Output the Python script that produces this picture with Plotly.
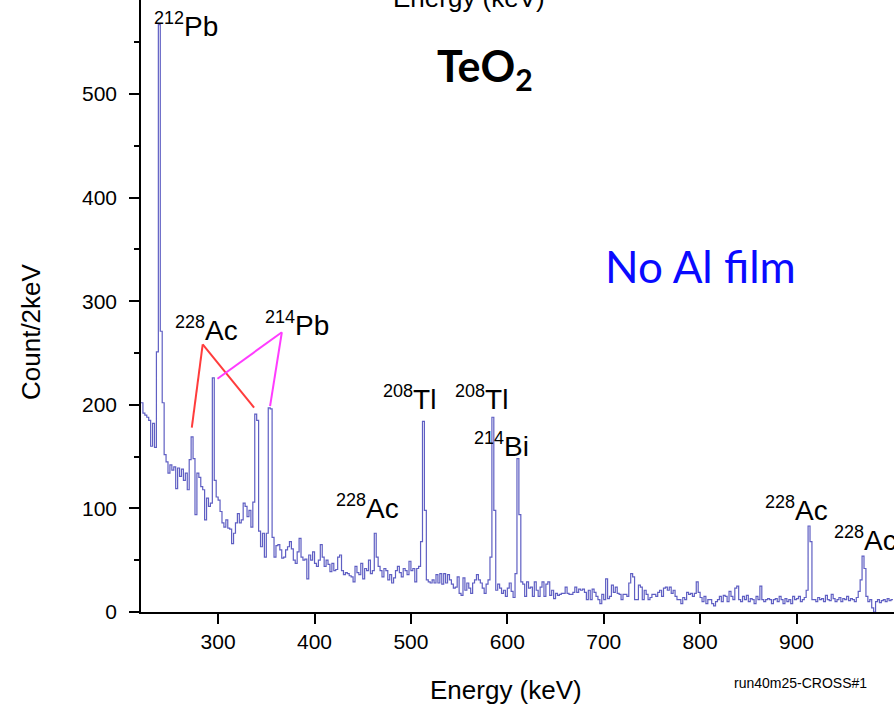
import plotly.graph_objects as go

# ---- data: gamma spectrum, 2 keV bins starting at 220 keV ----
bin_start = 220
bin_width = 2
counts = [
    202, 192, 190, 188, 185, 160, 182, 159, 251, 567,   # 220-238
    271, 202, 152, 145, 134, 142, 137, 140, 119, 139,   # 240-258
    131, 138, 127, 134, 118, 147, 169, 148, 94, 134,    # 260-278
    130, 121, 118, 89, 110, 102, 105, 226, 127, 111,    # 280-298
    108, 97, 86, 82, 89, 81, 80, 66, 76, 86,            # 300-318
    95, 86, 89, 105, 102, 92, 98, 82, 106, 191,         # 320-338
    185, 78, 63, 76, 53, 76, 197, 196, 72, 53,          # 340-358
    64, 65, 60, 52, 53, 60, 63, 68, 61, 50,             # 360-378
    47, 58, 71, 53, 50, 51, 32, 55, 50, 58,             # 380-398
    47, 44, 50, 65, 53, 44, 50, 46, 39, 47,             # 400-418
    40, 41, 53, 55, 40, 36, 38, 37, 35, 34,             # 420-438
    29, 44, 38, 36, 47, 32, 42, 40, 50, 37,             # 440-458
    40, 76, 53, 44, 40, 34, 42, 40, 31, 36,             # 460-478
    28, 33, 40, 44, 38, 34, 42, 40, 36, 49,             # 480-498
    40, 42, 29, 42, 44, 68, 184, 98, 31, 29,            # 500-518
    28, 31, 28, 36, 28, 37, 27, 37, 28, 36,             # 520-538
    31, 27, 23, 24, 34, 18, 16, 33, 21, 28,             # 540-558
    23, 18, 28, 31, 36, 31, 28, 23, 18, 27,             # 560-578
    31, 53, 188, 98, 21, 27, 23, 18, 21, 15,            # 580-598
    23, 28, 20, 14, 37, 148, 94, 29, 27, 15,            # 600-618
    29, 23, 24, 15, 29, 21, 15, 24, 29, 15,             # 620-638
    27, 29, 16, 21, 13, 18, 16, 17, 18, 18,             # 640-658
    24, 18, 17, 17, 19, 24, 19, 22, 21, 22,             # 660-678
    19, 12, 21, 12, 22, 19, 15, 12, 8, 17,              # 680-698
    12, 32, 13, 15, 26, 19, 24, 18, 17, 12,             # 700-718
    17, 17, 15, 28, 37, 34, 12, 12, 26, 24,             # 720-738
    12, 21, 17, 12, 14, 17, 17, 15, 19, 21,             # 740-758
    15, 23, 24, 21, 24, 18, 21, 15, 12, 12,             # 760-778
    8, 14, 12, 19, 17, 18, 15, 18, 29, 19,              # 780-798
    14, 10, 15, 8, 12, 12, 8, 6, 10, 12,                # 800-818
    15, 10, 16, 15, 10, 20, 15, 12, 23, 25,             # 820-838
    12, 10, 15, 12, 16, 10, 13, 12, 8, 15,              # 840-858
    12, 25, 12, 10, 12, 13, 12, 8, 12, 13,              # 860-878
    10, 15, 12, 8, 13, 10, 12, 8, 15, 12,               # 880-898
    13, 15, 10, 12, 14, 21, 83, 68, 12, 12,             # 900-918
    10, 14, 12, 13, 10, 16, 12, 11, 17, 13,             # 920-938
    10, 12, 14, 10, 13, 12, 15, 11, 13, 12,             # 940-958
    10, 14, 20, 31, 54, 42, 15, 10, 12, 4,              # 960-978
    0, 10, 12, 9, 11, 12, 10, 13, 11, 12,               # 980-998
]
x_ticks = [300, 400, 500, 600, 700, 800, 900]
y_ticks = [0, 100, 200, 300, 400, 500]

# peak labels: (mass number, element, label energy, label count)
peak_labels = [
    ("212", "Pb", 231.4, 567.0),
    ("228", "Ac", 253.2, 273.0),
    ("214", "Pb", 346.6, 278.0),
    ("208", "Tl", 469.0, 207.0),
    ("208", "Tl", 543.7, 207.0),
    ("214", "Bi", 563.4, 161.0),
    ("228", "Ac", 420.2, 101.0),
    ("228", "Ac", 865.2, 99.0),
    ("228", "Ac", 936.8, 70.0),
]

edges = [bin_start + bin_width * i for i in range(len(counts) + 1)]
step_y = counts + [counts[-1]]

LINE = "rgb(95,95,195)"
ARIAL = "Liberation Sans, Arial, sans-serif"
SANS = "Lato, Open Sans, sans-serif"

fig = go.Figure()
fig.add_trace(go.Scatter(
    x=edges, y=step_y, mode="lines", line_shape="hv",
    line=dict(color=LINE, width=1.2), hoverinfo="skip", showlegend=False,
))

# connecting lines from labels to peaks
red = "rgb(255,60,60)"
mag = "rgb(255,60,255)"
for (x0, y0, x1, y1, c) in [
    (284.0, 258.4, 272.7, 177.9, red),
    (284.0, 258.4, 337.3, 197.2, red),
    (366.1, 270.0, 299.3, 225.2, mag),
    (366.1, 270.0, 353.9, 198.8, mag),
]:
    fig.add_shape(type="line", xref="x", yref="y", x0=x0, y0=y0, x1=x1, y1=y1,
                  line=dict(color=c, width=2))

for sup, el, lx, ly in peak_labels:
    fig.add_annotation(x=lx, y=ly, xref="x", yref="y", xanchor="left", yanchor="middle",
                       text=f"<sup><span style='font-size:18px'>{sup}</span></sup>{el}",
                       showarrow=False,
                       font=dict(family=ARIAL, size=28, color="black"))


def px(xp):
    return (xp - 141) / 753


def py(yp):
    return 1 - yp / 612


fig.add_annotation(x=px(485), y=py(68), xref="paper", yref="paper",
                   xanchor="center", yanchor="middle",
                   text="<b>TeO<sub>2</sub></b>", showarrow=False,
                   font=dict(family=SANS, size=43, color="black"))
fig.add_annotation(x=px(700), y=py(266), xref="paper", yref="paper",
                   xanchor="center", yanchor="middle",
                   text="No Al film", showarrow=False,
                   font=dict(family=SANS, size=44, color="rgb(10,10,255)"))
# partially visible axis title of the panel above
fig.add_annotation(x=px(469), y=1, xref="paper", yref="paper",
                   xanchor="center", yanchor="bottom", yshift=-15,
                   text="Energy (keV)", showarrow=False,
                   font=dict(family=ARIAL, size=26, color="black"))
fig.add_annotation(x=px(506), y=py(690), xref="paper", yref="paper",
                   xanchor="center", yanchor="middle",
                   text="Energy (keV)", showarrow=False,
                   font=dict(family=ARIAL, size=26, color="black"))
fig.add_annotation(x=px(31), y=py(332), xref="paper", yref="paper",
                   xanchor="center", yanchor="middle",
                   text="Count/2keV", textangle=-90, showarrow=False,
                   font=dict(family=ARIAL, size=26, color="black"))
fig.add_annotation(x=px(800), y=py(683), xref="paper", yref="paper",
                   xanchor="center", yanchor="middle",
                   text="run40m25-CROSS#1", showarrow=False,
                   font=dict(family="Liberation Sans Narrow, " + ARIAL, size=14, color="black"))

fig.update_layout(
    width=894, height=706,
    margin=dict(l=141, r=0, t=0, b=94),
    paper_bgcolor="white", plot_bgcolor="white",
    xaxis=dict(range=[220, 220 + 753 / 0.964], tickvals=x_ticks,
               ticks="outside", ticklen=10, tickwidth=1.5, tickcolor="black",
               showline=True, linecolor="black", linewidth=1.5,
               showgrid=False, zeroline=False,
               tickfont=dict(family=ARIAL, size=21, color="black")),
    yaxis=dict(range=[0, 612 / 1.036], tickvals=y_ticks,
               ticks="outside", ticklen=10, tickwidth=1.5, tickcolor="black",
               minor=dict(dtick=50, tick0=0, ticks="outside", ticklen=5, tickwidth=1.5,
                          tickcolor="black", showgrid=False),
               showline=True, linecolor="black", linewidth=1.5,
               showgrid=False, zeroline=False, ticklabelstandoff=8,
               tickfont=dict(family=ARIAL, size=21, color="black")),
)

fig.write_html("out.html", config={"displayModeBar": False},
               post_script="document.body.style.margin='0';")
